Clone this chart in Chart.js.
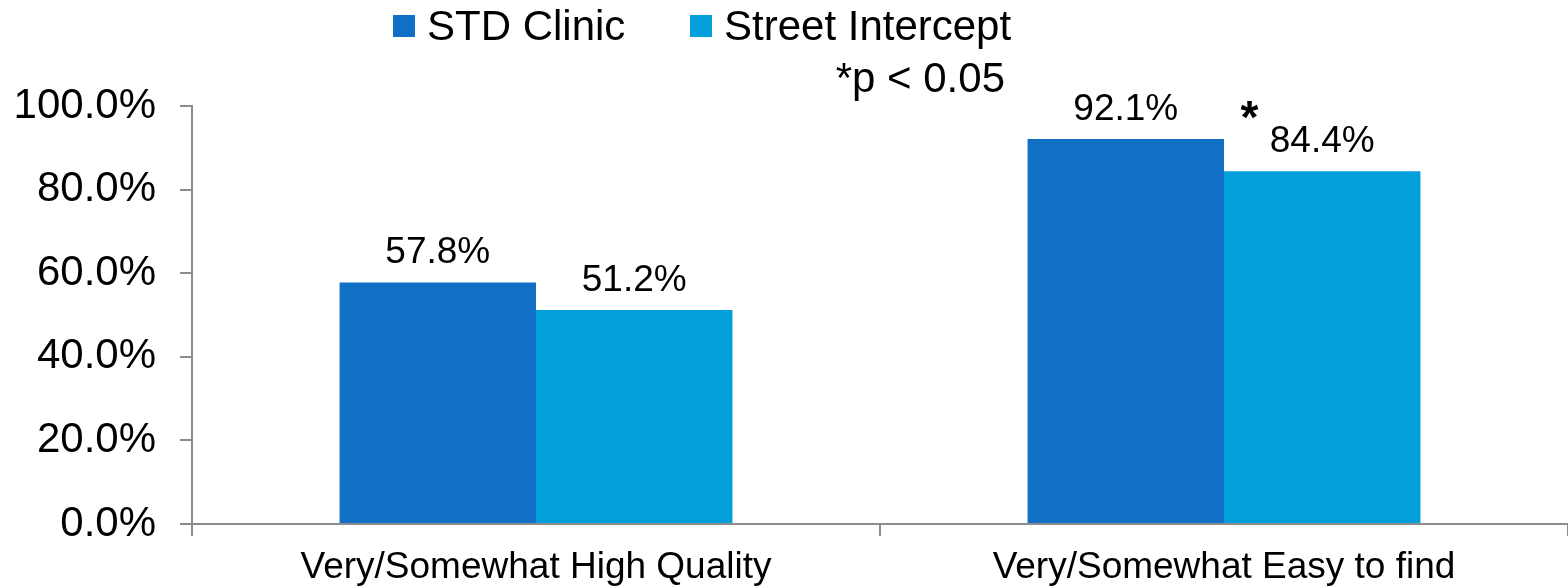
<!DOCTYPE html>
<html>
<head>
<meta charset="utf-8">
<script src="https://cdn.jsdelivr.net/npm/chart.js@4.4.1/dist/chart.umd.min.js"></script>
<style>
  html, body { margin: 0; padding: 0; background: #ffffff; }
  #wrap { width: 1568px; height: 587px; }
</style>
</head>
<body>
<div id="wrap"><canvas id="chart" width="1568" height="587"></canvas></div>
<script>
// Survey results by recruitment site
const categories = ['Very/Somewhat High Quality', 'Very/Somewhat Easy to find'];
const stdClinic = [57.8, 92.1];
const streetIntercept = [51.2, 84.4];
const seriesNames = ['STD Clinic', 'Street Intercept'];
const significant = [false, true];   // marks a difference at p < 0.05
const yTicks = [0, 20, 40, 60, 80, 100];
const noteText = '*p < 0.05';

const FONT = '"Liberation Sans", Arial, Helvetica, sans-serif';
const AXIS_GREY = '#8c8c8c';
const COLORS = ['#126FC6', '#039FDA'];

// Value labels, significance star, legend and footnote
const annotate = {
  id: 'annotate',
  afterDatasetsDraw(chart) {
    const ctx = chart.ctx;
    ctx.save();
    ctx.fillStyle = '#000000';
    ctx.textAlign = 'center';
    ctx.textBaseline = 'alphabetic';
    ctx.font = '37px ' + FONT;
    chart.data.datasets.forEach((ds, i) => {
      const meta = chart.getDatasetMeta(i);
      meta.data.forEach((bar, j) => {
        ctx.fillText(ds.data[j].toFixed(1) + '%', bar.x, bar.y - 19);
      });
    });
    // star beside the second series label where the difference is significant
    const meta2 = chart.getDatasetMeta(1);
    meta2.data.forEach((bar, j) => {
      if (!significant[j]) return;
      ctx.font = 'bold 46px ' + FONT;
      ctx.fillText('*', bar.x - bar.width * 0.37, bar.y - 38);
    });

    // legend
    ctx.textAlign = 'left';
    ctx.textBaseline = 'middle';
    ctx.font = '42px ' + FONT;
    const starts = [393, 690];
    chart.data.datasets.forEach((ds, i) => {
      const x = starts[i];
      ctx.fillStyle = ds.backgroundColor;
      ctx.fillRect(x, 15, 22, 22);
      ctx.fillStyle = '#000000';
      ctx.fillText(ds.label, x + 34, 28);
    });
    ctx.textAlign = 'right';
    ctx.fillText(noteText, 1005, 80);
    ctx.restore();
  }
};

new Chart(document.getElementById('chart'), {
  type: 'bar',
  data: {
    labels: categories,
    datasets: [
      { label: seriesNames[0], data: stdClinic, backgroundColor: COLORS[0] },
      { label: seriesNames[1], data: streetIntercept, backgroundColor: COLORS[1] }
    ]
  },
  options: {
    responsive: false,
    animation: false,
    devicePixelRatio: 1,
    layout: { padding: { top: 106, right: 0, left: 0, bottom: 0 } },
    datasets: {
      bar: { categoryPercentage: 0.571, barPercentage: 1.0 }
    },
    plugins: {
      legend: { display: false },
      tooltip: { enabled: false }
    },
    scales: {
      x: {
        offset: true,
        grid: {
          offset: true,
          drawOnChartArea: false,
          drawTicks: true,
          tickLength: 12,
          color: AXIS_GREY,
          lineWidth: 2
        },
        border: { display: true, color: AXIS_GREY, width: 2 },
        ticks: {
          color: '#000000',
          font: { family: FONT, size: 37 },
          padding: 10,
          maxRotation: 0,
          autoSkip: false
        },
        afterFit(scale) { scale.height = 63; }
      },
      y: {
        min: 0,
        max: 100,
        afterBuildTicks(scale) { scale.ticks = yTicks.map(v => ({ value: v })); },
        grid: {
          drawOnChartArea: false,
          drawTicks: true,
          tickLength: 12,
          color: AXIS_GREY,
          lineWidth: 2
        },
        border: { display: true, color: AXIS_GREY, width: 2 },
        ticks: {
          color: '#000000',
          font: { family: FONT, size: 42 },
          padding: 24,
          callback: v => Number(v).toFixed(1) + '%'
        },
        afterFit(scale) { scale.width = 192; }
      }
    }
  },
  plugins: [annotate]
});
</script>
</body>
</html>
